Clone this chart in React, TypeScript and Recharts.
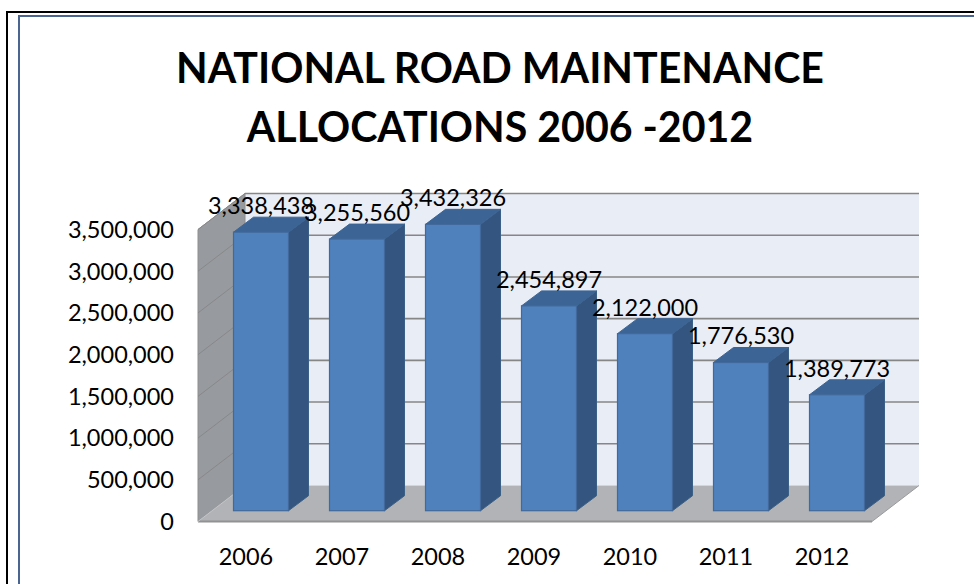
import React from 'react';
import { BarChart, Bar, XAxis, YAxis, LabelList, ReferenceArea, ReferenceLine } from 'recharts';

const years = ['2006', '2007', '2008', '2009', '2010', '2011', '2012'];
const allocations = [3338438, 3255560, 3432326, 2454897, 2122000, 1776530, 1389773];
const yTicks = [0, 500000, 1000000, 1500000, 2000000, 2500000, 3000000, 3500000];
const titleLines = ['NATIONAL ROAD MAINTENANCE', 'ALLOCATIONS 2006 -2012'];

const chartData = years.map((year, i) => ({ year, value: allocations[i] }));

// fake 3d: how far the back wall sits from the axis plane, and the bars from it
const WALL_DX = 47;
const WALL_DY = -36;
const BAR_DX = 14.5;
const BAR_DY = -10.8;
const SIDE_DX = 20;
const SIDE_DY = -15;
const FLOOR_EXTRA = 2; // floor runs a bit past the last category band

const FONT = 'Lato, sans-serif';

const fmt = (v: number) => v.toLocaleString('en-US');

const Walls = (props: any) => {
  const { x, y, width, height } = props;
  const b = y + height;
  const r = x + width + FLOOR_EXTRA;
  return (
    <g>
      <polygon
        points={`${x + WALL_DX},${y + WALL_DY} ${r + WALL_DX},${y + WALL_DY} ${r + WALL_DX},${b + WALL_DY} ${x + WALL_DX},${b + WALL_DY}`}
        fill="#e9edf6"
      />
      <polygon
        points={`${x},${y} ${x + WALL_DX},${y + WALL_DY} ${x + WALL_DX},${b + WALL_DY} ${x},${b}`}
        fill="#979a9e"
        stroke="#8e8e8e"
        strokeWidth={1}
      />
      <polygon
        points={`${x},${b} ${x + WALL_DX},${b + WALL_DY} ${r + WALL_DX},${b + WALL_DY} ${r},${b}`}
        fill="#b1b3b6"
      />
      <line x1={x} y1={b} x2={r} y2={b} stroke="#929292" strokeWidth={2} />
      <line x1={x} y1={b} x2={x + WALL_DX} y2={b + WALL_DY} stroke="#c4c5c8" strokeWidth={1} />
      <line x1={r} y1={b} x2={r + WALL_DX} y2={b + WALL_DY} stroke="#9a9a9a" strokeWidth={1} />
    </g>
  );
};

const GridLine = (props: any) => {
  const { x1, y1, x2, y2 } = props;
  return (
    <g>
      <line x1={x1} y1={y1} x2={x1 + WALL_DX} y2={y1 + WALL_DY} stroke="#88888a" strokeWidth={1} />
      <line x1={x1 + WALL_DX} y1={y1 + WALL_DY} x2={x2 + WALL_DX + FLOOR_EXTRA} y2={y2 + WALL_DY} stroke="#868686" strokeWidth={1.6} />
    </g>
  );
};

const Bar3d = (props: any) => {
  const { x, y, width, height } = props;
  const l = x + BAR_DX;
  const r = l + width;
  const t = y + BAR_DY;
  const b = t + height;
  return (
    <g>
      <polygon
        points={`${r},${t} ${r + SIDE_DX},${t + SIDE_DY} ${r + SIDE_DX},${b + SIDE_DY} ${r},${b}`}
        fill="#33557f"
        stroke="#3a6088"
        strokeWidth={1}
      />
      <polygon
        points={`${l},${t} ${l + SIDE_DX},${t + SIDE_DY} ${r + SIDE_DX},${t + SIDE_DY} ${r},${t}`}
        fill="#3c6494"
        stroke="#3c6494"
        strokeWidth={1}
      />
      <rect x={l} y={t} width={width} height={height} fill="#4f81bd" stroke="#41699b" strokeWidth={1.2} />
    </g>
  );
};

const BarValue = (props: any) => {
  const { x, y, width, value } = props;
  return (
    <text
      x={x + BAR_DX + width / 2}
      y={y + BAR_DY - 18}
      textAnchor="middle"
      fontFamily={FONT}
      fontSize={23.5}
      fill="#000"
    >
      {fmt(value)}
    </text>
  );
};

export default function App() {
  return (
    <div style={{ position: 'absolute', left: 0, top: 0, width: 974, height: 584, overflow: 'hidden', background: '#fff' }}>
      <div style={{ position: 'absolute', left: 6, top: 11, width: 968, height: 573, borderLeft: '2px solid #000', borderTop: '2px solid #000', boxSizing: 'border-box' }} />
      <div style={{ position: 'absolute', left: 18, top: 15, width: 956, height: 569, borderLeft: '2.4px solid #4a6591', borderTop: '2.4px solid #4a6591', boxSizing: 'border-box' }} />
      {titleLines.map((line, i) => (
        <div
          key={line}
          style={{
            position: 'absolute',
            left: 0,
            width: 1000,
            top: 35 + i * 59,
            textAlign: 'center',
            fontFamily: FONT,
            fontWeight: 700,
            fontSize: 41.1,
            lineHeight: '64px',
            color: '#000',
            whiteSpace: 'nowrap',
          }}
        >
          {line}
        </div>
      ))}
      <div style={{ position: 'absolute', left: 0, top: 0 }}>
        <BarChart
          width={974}
          height={584}
          data={chartData}
          margin={{ top: 229.5, right: 104, bottom: 0, left: 0 }}
          barSize={55}
        >
          <XAxis
            dataKey="year"
            axisLine={false}
            tickLine={false}
            tickSize={0}
            tickMargin={27}
            height={62.5}
            interval={0}
            tick={{ fontFamily: FONT, fontSize: 23.5, fill: '#000' }}
          />
          <YAxis
            width={198}
            domain={[0, 3500000]}
            ticks={yTicks}
            tickFormatter={fmt}
            axisLine={false}
            tickLine={false}
            tickSize={0}
            tickMargin={24}
            tick={{ fontFamily: FONT, fontSize: 23.5, fill: '#000' }}
          />
          <ReferenceArea y1={0} y2={3500000} shape={<Walls />} fillOpacity={1} zIndex={40} />
          {yTicks.slice(1).map((t) => (
            <ReferenceLine key={t} y={t} shape={<GridLine />} zIndex={50} />
          ))}
          <Bar dataKey="value" shape={<Bar3d />} isAnimationActive={false}>
            <LabelList dataKey="value" content={<BarValue />} />
          </Bar>
        </BarChart>
      </div>
    </div>
  );
}
